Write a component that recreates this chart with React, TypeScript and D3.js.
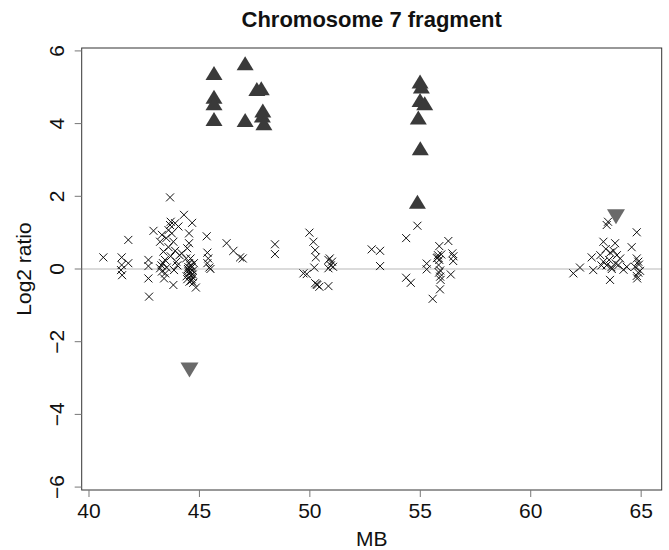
import * as d3 from "d3";

// probe positions (MB) and log2 ratios for ordinary probes (crosses)
const probeMB = [
  40.65, 41.48, 41.48, 41.45, 41.5, 41.78, 41.78, 42.69, 42.69, 42.69, 42.72, 42.92, 43.67,
  43.22, 43.3, 43.37, 43.44, 43.22, 43.3, 43.35, 43.4, 43.52, 43.6, 43.67, 43.7, 43.75, 43.82,
  43.9, 43.82, 43.85, 43.95, 44.05, 44.1, 44.2, 43.6, 43.7, 43.5, 44.0, 44.3,
  44.53, 44.53, 44.45, 44.4, 44.6, 44.53, 44.6, 44.65, 44.53, 44.6, 44.65, 44.45, 44.84, 44.7,
  44.75, 44.67, 44.5, 44.55, 44.7, 44.5, 44.62, 44.72,
  43.28, 43.45, 43.9, 44.42, 44.58, 44.68, 44.48, 44.63,
  45.33, 45.36, 45.4, 45.36, 45.45, 45.5, 46.23, 46.54, 46.84, 46.96, 48.42, 48.42,
  49.98, 50.16, 50.24, 50.27, 50.2, 49.71, 49.86, 50.24, 50.34, 50.43, 50.3, 50.84, 50.84, 50.9,
  51.0, 50.84, 51.05, 50.95,
  52.8, 53.18, 53.18, 54.36, 54.87, 54.36, 54.57,
  55.29, 55.29, 55.86, 56.27, 55.8, 55.86, 55.8, 55.83, 55.9, 55.9, 55.89, 55.56, 56.38, 56.45,
  56.49, 55.95, 55.85, 56.5, 55.75, 55.92,
  61.93, 62.23, 62.76, 62.83, 63.29, 63.44, 63.5, 63.15, 63.29, 63.59, 63.65, 63.82, 63.9, 64.05,
  63.97, 63.44, 63.67, 64.57, 64.8, 64.8, 64.87, 64.72, 64.87, 64.8, 64.95, 64.82, 64.35, 64.2,
  63.6, 63.75, 63.4, 63.2, 63.85, 63.55, 64.9,
];
const probeRatio = [
  0.32, 0.32, 0.11, -0.03, -0.17, 0.8, 0.16, 0.25, 0.08, -0.26, -0.76, 1.05, 1.97,
  0.75, 0.94, 0.48, 0.25, 0.02, -0.07, 0.16, -0.26, 0.04, 1.07, 1.21, 1.3, 0.98, 0.75,
  1.26, -0.44, -0.03, 0.2, 1.17, 0.38, 0.43, 0.6, 0.35, 0.85, 0.1, 1.49,
  0.98, 0.71, 0.57, 0.29, 0.29, 0.16, 0.02, 0.05, -0.1, -0.18, -0.28, -0.28, -0.51, -0.05,
  0.16, 1.27, -0.05, -0.35, -0.15, 0.05, 0.1, -0.38,
  0.1, -0.12, 0.5, -0.2, -0.08, -0.22, 0.0, -0.32,
  0.9, 0.45, 0.29, 0.16, 0.04, 0.0, 0.71, 0.5, 0.32, 0.29, 0.68, 0.41,
  1.0, 0.75, 0.52, 0.32, 0.04, -0.12, -0.14, -0.39, -0.44, -0.49, -0.42, -0.47, 0.25, 0.29,
  0.2, 0.02, 0.06, 0.1,
  0.54, 0.5, 0.08, 0.85, 1.19, -0.24, -0.38,
  0.15, -0.01, 0.63, 0.77, 0.38, 0.25, 0.32, 0.11, -0.04, -0.21, -0.56, -0.82, -0.15, 0.43,
  0.22, 0.4, -0.1, 0.35, 0.3, -0.3,
  -0.12, 0.04, 0.32, -0.03, 0.75, 1.21, 1.3, 0.38, 0.2, -0.3, 0.05, 0.71, 0.38, 0.29,
  0.11, 0.1, 0.0, 0.6, 1.01, 0.29, 0.2, 0.06, -0.1, -0.19, -0.05, -0.26, 0.06, -0.02,
  0.45, 0.5, 0.55, 0.1, 0.15, 0.25, 0.12,
];

// amplified probes (up triangles)
const gainMB = [45.66, 45.66, 45.66, 45.66, 47.07, 47.07, 47.6, 47.8, 47.87, 47.85, 47.92, 54.99, 55.05, 54.99, 55.2, 54.91, 55.0, 54.87];
const gainRatio = [5.39, 4.74, 4.56, 4.13, 5.66, 4.1, 4.95, 4.97, 4.36, 4.22, 4.01, 5.16, 5.02, 4.65, 4.56, 4.17, 3.32, 1.85];

// outlier probes (down triangles)
const lossMB = [44.55, 63.86];
const lossRatio = [-2.78, 1.44];

const xTicks = [40, 45, 50, 55, 60, 65];
const yTicks = [-6, -4, -2, 0, 2, 4, 6];

const W = 669;
const H = 550;
const left = 81.7;
const right = 661.7;
const top = 48;
const bottom = 490;

const fmt = (v: number) => (v < 0 ? "\u2212" + Math.abs(v) : String(v));

export default function App() {
  const x = d3.scaleLinear().domain([39.67, 65.93]).range([left, right]);
  const y = d3.scaleLinear().domain([-6.08, 6.08]).range([bottom, top]);
  const font = "Liberation Sans, Arial, Helvetica, sans-serif";

  return (
    <svg
      width={W}
      height={H}
      style={{ position: "absolute", left: 0, top: 0, background: "#fff" }}
      fontFamily={font}
    >
      <text x={(left + right) / 2} y={27} textAnchor="middle" fontSize={22} fontWeight="bold" fill="#111">
        Chromosome 7 fragment
      </text>

      {/* zero line */}
      <line x1={left} x2={right} y1={y(0)} y2={y(0)} stroke="#cfcfcf" strokeWidth={1.5} />

      {probeMB.map((m, i) => {
        const cx = x(m);
        const cy = y(probeRatio[i]);
        return (
          <path
            key={"p" + i}
            d={`M${cx - 4},${cy - 4}L${cx + 4},${cy + 4}M${cx - 4},${cy + 4}L${cx + 4},${cy - 4}`}
            stroke="#111"
            strokeWidth={1}
            fill="none"
          />
        );
      })}

      {gainMB.map((m, i) => {
        const cx = x(m);
        const cy = y(gainRatio[i]);
        return (
          <path
            key={"g" + i}
            d={`M${cx},${cy - 7}L${cx + 8.5},${cy + 7}L${cx - 8.5},${cy + 7}Z`}
            fill="#3a3a3a"
          />
        );
      })}

      {lossMB.map((m, i) => {
        const cx = x(m);
        const cy = y(lossRatio[i]);
        return (
          <path
            key={"l" + i}
            d={`M${cx - 9},${cy - 7.5}L${cx + 9},${cy - 7.5}L${cx},${cy + 7.5}Z`}
            fill="#6a6a6a"
          />
        );
      })}

      <rect x={left} y={top} width={right - left} height={bottom - top} fill="none" stroke="#333" strokeWidth={1} />

      {xTicks.map((t) => (
        <g key={"xt" + t}>
          <line x1={x(t)} x2={x(t)} y1={bottom} y2={bottom + 7} stroke="#777" />
          <text x={x(t)} y={518} textAnchor="middle" fontSize={21} fill="#111">
            {t}
          </text>
        </g>
      ))}

      {yTicks.map((t) => (
        <g key={"yt" + t}>
          <line x1={left - 7} x2={left} y1={y(t)} y2={y(t)} stroke="#777" />
          <text
            transform={`translate(64,${y(t)}) rotate(-90)`}
            textAnchor="middle"
            fontSize={21}
            fill="#111"
          >
            {fmt(t)}
          </text>
        </g>
      ))}

      <text x={(left + right) / 2} y={546} textAnchor="middle" fontSize={21} fill="#111">
        MB
      </text>
      <text
        transform={`translate(31,${(top + bottom) / 2}) rotate(-90)`}
        textAnchor="middle"
        fontSize={21}
        fill="#111"
      >
        Log2 ratio
      </text>
    </svg>
  );
}
